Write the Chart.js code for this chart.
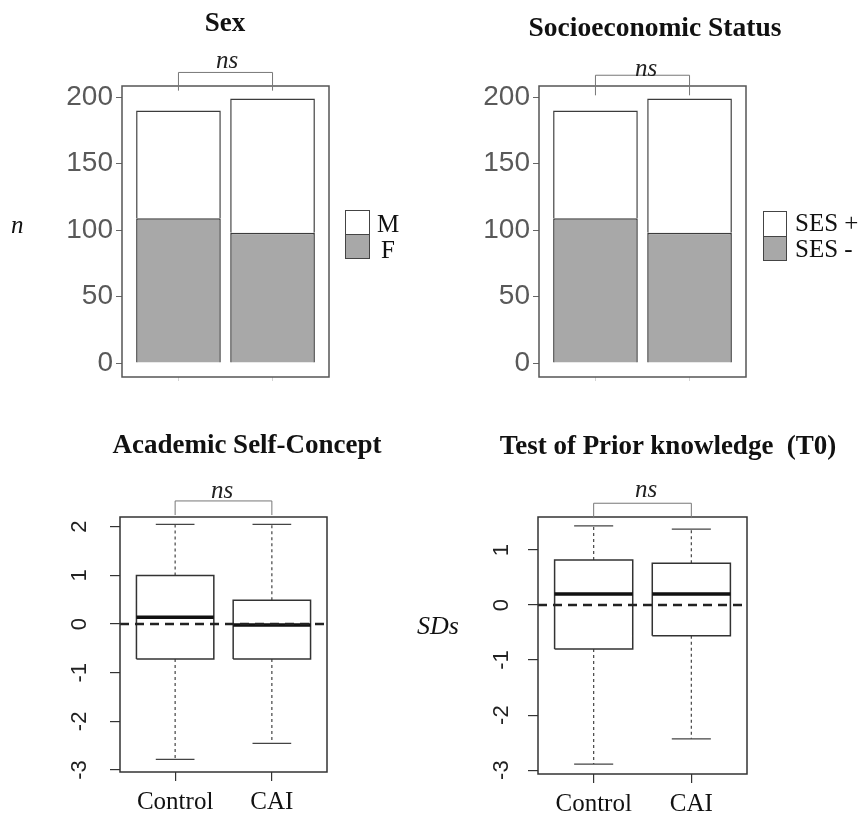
<!DOCTYPE html>
<html>
<head>
<meta charset="utf-8">
<script src="https://cdn.jsdelivr.net/npm/chart.js@4.4.1/dist/chart.umd.min.js"></script>
<style>
  body { margin: 0; background: #fff; }
  #wrap { position: relative; width: 865px; height: 814px; overflow: hidden; }
  canvas { position: absolute; }
  .t { position: absolute; font-family: "Liberation Serif", "Times New Roman", serif; color: #111; white-space: nowrap; line-height: 1; }
  .title { font-weight: bold; font-size: 27px; width: 440px; text-align: center; }
  .ns { font-style: italic; font-size: 25px; width: 60px; text-align: center; color: #222; }
  .lab { font-size: 25px; }
  .key { position: absolute; border: 1.5px solid #444; box-sizing: border-box; }
</style>
</head>
<body>
<div id="wrap">
  <canvas id="sex" width="430" height="400" style="left:0;top:0;width:430px;height:400px"></canvas>
  <canvas id="ses" width="435" height="400" style="left:430px;top:0;width:435px;height:400px"></canvas>
  <canvas id="asc" width="430" height="414" style="left:0;top:400px;width:430px;height:414px"></canvas>
  <canvas id="t0" width="435" height="414" style="left:430px;top:400px;width:435px;height:414px"></canvas>

  <div class="t title" style="left:5px;top:9px">Sex</div>
  <div class="t title" style="left:435px;top:13px;font-size:27.5px">Socioeconomic Status</div>
  <div class="t title" style="left:27px;top:431px">Academic Self-Concept</div>
  <div class="t title" style="left:448px;top:432px">Test of Prior knowledge&nbsp; (T0)</div>

  <div class="t ns" style="left:197px;top:47px">ns</div>
  <div class="t ns" style="left:616px;top:55px">ns</div>
  <div class="t ns" style="left:192px;top:477px">ns</div>
  <div class="t ns" style="left:616px;top:476px">ns</div>

  <div class="t lab" style="left:11px;top:212px;font-style:italic">n</div>
  <div class="t lab" style="left:417px;top:613px;font-style:italic;font-size:26px">SDs</div>

  <!-- legends -->
  <div class="key" style="left:345px;top:210px;width:25px;height:26px;background:#fff"></div>
  <div class="key" style="left:345px;top:234px;width:25px;height:25px;background:#a8a8a8"></div>
  <div class="t lab" style="left:377px;top:211px">M</div>
  <div class="t lab" style="left:381px;top:237px">F</div>

  <div class="key" style="left:763px;top:211px;width:24px;height:27px;background:#fff"></div>
  <div class="key" style="left:763px;top:236px;width:24px;height:25px;background:#a8a8a8"></div>
  <div class="t lab" style="left:795px;top:210px">SES +</div>
  <div class="t lab" style="left:795px;top:236px">SES -</div>
</div>

<script>
// groups
const groups = ["Control", "CAI"];
const groupX = [1, 2];

// top row: counts per group
const sexF = [109, 98];
const sexM = [81, 101];
const sesMinus = [109, 98];
const sesPlus = [81, 101];
const countTicks = [0, 50, 100, 150, 200];

// academic self-concept (SDs): whisker low, Q1, median, Q3, whisker high
const ascLow = [-2.78, -2.45];
const ascQ1 = [-0.72, -0.72];
const ascMed = [0.14, -0.02];
const ascQ3 = [1.0, 0.49];
const ascHigh = [2.05, 2.05];
const ascTicks = [-3, -2, -1, 0, 1, 2];

// test of prior knowledge T0 (SDs)
const t0Low = [-2.89, -2.43];
const t0Q1 = [-0.8, -0.56];
const t0Med = [0.2, 0.2];
const t0Q3 = [0.82, 0.76];
const t0High = [1.44, 1.38];
const t0Ticks = [-3, -2, -1, 0, 1];

const serif = "'Liberation Serif', 'Times New Roman', serif";
const sans = "'Liberation Sans', Arial, sans-serif";

// box around the plot area + the "ns" bracket
const frame = {
  id: 'frame',
  afterDatasetsDraw(chart, args, opts) {
    const { ctx, chartArea: a, scales } = chart;
    ctx.save();
    ctx.strokeStyle = opts.color;
    ctx.lineWidth = 1.5;
    ctx.strokeRect(a.left, a.top, a.right - a.left, a.bottom - a.top);
    // bracket
    const x1 = scales.x.getPixelForValue(groupX[0]);
    const x2 = scales.x.getPixelForValue(groupX[1]);
    const yTop = scales.y.getPixelForValue(opts.bracket[1]);
    const yEnd = scales.y.getPixelForValue(opts.bracket[0]);
    ctx.strokeStyle = '#777';
    ctx.lineWidth = 1;
    ctx.beginPath();
    ctx.moveTo(x1, yEnd); ctx.lineTo(x1, yTop); ctx.lineTo(x2, yTop); ctx.lineTo(x2, yEnd);
    ctx.stroke();
    ctx.restore();
  }
};

function stackedPanel(id, lower, upper, yAxisW, padRight, bracket) {
  new Chart(document.getElementById(id), {
    type: 'bar',
    data: {
      datasets: [
        { data: groupX.map((x, i) => ({ x, y: lower[i] })), backgroundColor: '#a8a8a8',
          borderColor: '#3c3c3c', borderWidth: 1.5, barPercentage: 0.9, categoryPercentage: 1 },
        { data: groupX.map((x, i) => ({ x, y: upper[i] })), backgroundColor: '#fff',
          borderColor: '#3c3c3c', borderWidth: 1.5, barPercentage: 0.9, categoryPercentage: 1 }
      ]
    },
    options: {
      responsive: false,
      animation: false,
      layout: { padding: { left: 0, top: 86, right: padRight, bottom: 15 } },
      plugins: { legend: { display: false }, tooltip: { enabled: false },
                 frame: { color: '#555', bracket } },
      scales: {
        x: {
          type: 'linear', min: 0.4, max: 2.6, stacked: true, offset: false,
          afterBuildTicks: a => { a.ticks = groupX.map(v => ({ value: v })); },
          ticks: { display: false },
          grid: { drawOnChartArea: false, offset: false, color: '#d4d4d4', tickLength: 4 },
          border: { display: false },
          afterFit: a => { a.height = 8; }
        },
        y: {
          min: -10.5, max: 208.5, stacked: true,
          afterBuildTicks: a => { a.ticks = countTicks.map(v => ({ value: v })); },
          ticks: { color: '#595959', padding: 3, font: { family: sans, size: 28 } },
          grid: { drawOnChartArea: false, color: '#666', tickLength: 6 },
          border: { display: false },
          afterFit: a => { a.width = yAxisW; }
        }
      }
    },
    plugins: [frame]
  });
}

function boxPanel(id, low, q1, med, q3, high, yTicks, yMin, yMax, yAxisW, padRight, xAxisH, labPad, bracket) {
  const boxes = [], medians = [], whiskers = [], caps = [];
  const gap = x => ({ x, y: null });
  groupX.forEach((gx, i) => {
    boxes.push({ x: gx - 0.4, y: q1[i] }, { x: gx + 0.4, y: q1[i] }, { x: gx + 0.4, y: q3[i] },
               { x: gx - 0.4, y: q3[i] }, { x: gx - 0.4, y: q1[i] }, gap(gx));
    medians.push({ x: gx - 0.4, y: med[i] }, { x: gx + 0.4, y: med[i] }, gap(gx));
    whiskers.push({ x: gx, y: q3[i] }, { x: gx, y: high[i] }, gap(gx),
                  { x: gx, y: q1[i] }, { x: gx, y: low[i] }, gap(gx));
    caps.push({ x: gx - 0.2, y: high[i] }, { x: gx + 0.2, y: high[i] }, gap(gx),
              { x: gx - 0.2, y: low[i] }, { x: gx + 0.2, y: low[i] }, gap(gx));
  });
  const line = (data, color, width, dash, order) => ({
    data, borderColor: color, borderWidth: width, borderDash: dash, order,
    showLine: true, pointRadius: 0, spanGaps: false, fill: false
  });
  new Chart(document.getElementById(id), {
    type: 'scatter',
    data: {
      datasets: [
        line([{ x: 0.43, y: 0 }, { x: 2.57, y: 0 }], '#222', 2.5, [9, 6], 0),
        line(medians, '#111', 3.5, [], 1),
        line(boxes, '#333', 1.5, [], 2),
        line(whiskers, '#444', 1.2, [3, 3], 3),
        line(caps, '#444', 1.2, [], 4)
      ]
    },
    options: {
      responsive: false,
      animation: false,
      layout: { padding: { left: 0, top: 117, right: padRight, bottom: 0 } },
      plugins: { legend: { display: false }, tooltip: { enabled: false },
                 frame: { color: '#333', bracket } },
      scales: {
        x: {
          type: 'linear', min: 0.43, max: 2.57,
          afterBuildTicks: a => { a.ticks = groupX.map(v => ({ value: v })); },
          ticks: { color: '#111', padding: 6, maxRotation: 0, autoSkip: false,
                   font: { family: serif, size: 25 },
                   callback: v => groups[groupX.indexOf(v)] },
          grid: { drawOnChartArea: false, color: '#333', lineWidth: 1.2, tickLength: 9 },
          border: { display: false },
          afterFit: a => { a.height = xAxisH; }
        },
        y: {
          min: yMin, max: yMax,
          afterBuildTicks: a => { a.ticks = yTicks.map(v => ({ value: v })); },
          ticks: { color: '#222', padding: labPad, minRotation: 90, maxRotation: 90, crossAlign: 'center',
                   font: { family: sans, size: 22 } },
          grid: { drawOnChartArea: false, color: '#333', lineWidth: 1.2, tickLength: 10 },
          border: { display: false },
          afterFit: a => { a.width = yAxisW; }
        }
      }
    },
    plugins: [frame]
  });
}

stackedPanel('sex', sexF, sexM, 122, 101, [205, 218.7]);
stackedPanel('ses', sesMinus, sesPlus, 109, 119, [201.5, 216.6]);
boxPanel('asc', ascLow, ascQ1, ascMed, ascQ3, ascHigh, ascTicks, -3.04, 2.2, 120, 103, 42, 20, [2.24, 2.53]);
boxPanel('t0', t0Low, t0Q1, t0Med, t0Q3, t0High, t0Ticks, -3.07, 1.6, 108, 118, 40, 16, [1.58, 1.85]);
</script>
</body>
</html>
